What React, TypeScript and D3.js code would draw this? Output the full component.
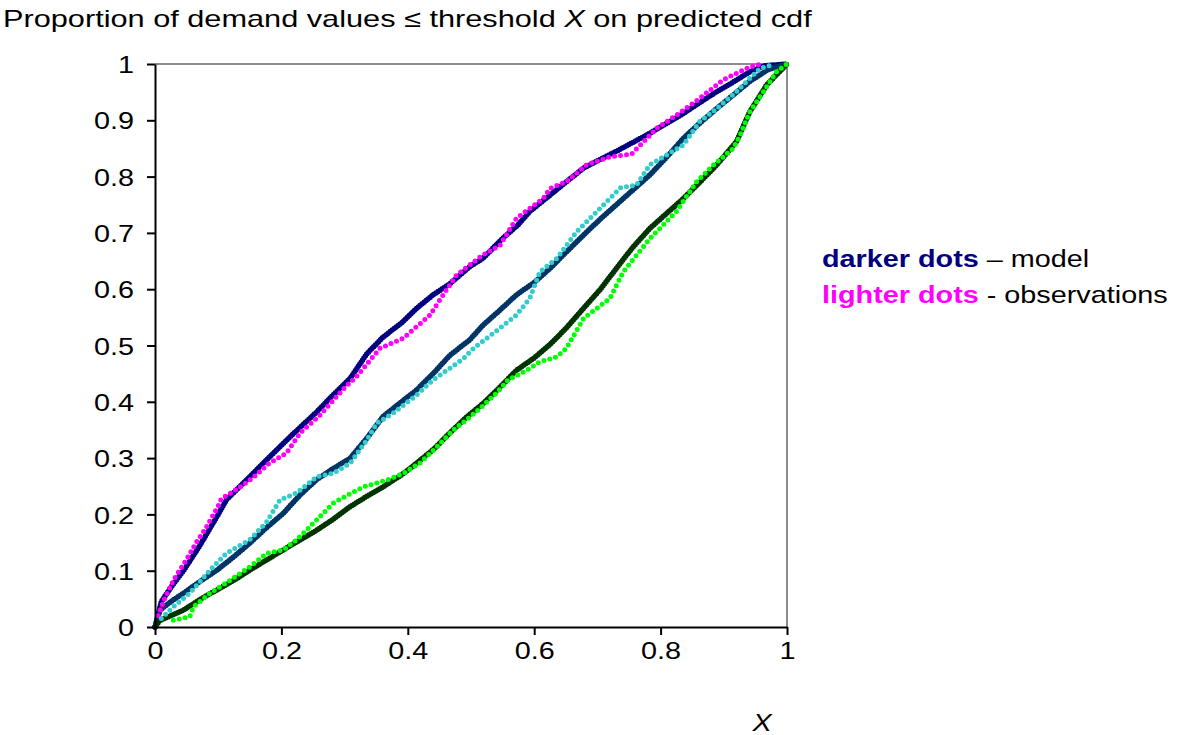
import React, { useEffect, useRef } from 'react';
import * as d3 from 'd3';

type Pt = [number, number];

// upper pair
const upperModel: Pt[] = [
  [0, 0], [0.01, 0.045], [0.025, 0.07], [0.045, 0.1], [0.07, 0.143], [0.1, 0.2], [0.113, 0.226],
  [0.15, 0.267], [0.175, 0.295], [0.203, 0.326], [0.23, 0.355], [0.256, 0.382], [0.28, 0.41],
  [0.309, 0.442], [0.335, 0.485], [0.361, 0.515], [0.39, 0.54], [0.414, 0.566], [0.44, 0.59],
  [0.467, 0.61], [0.498, 0.64], [0.519, 0.655], [0.55, 0.69], [0.575, 0.715], [0.593, 0.738],
  [0.625, 0.767], [0.65, 0.79], [0.678, 0.815], [0.7, 0.828], [0.73, 0.845], [0.755, 0.86],
  [0.783, 0.877], [0.81, 0.895], [0.836, 0.912], [0.86, 0.93], [0.889, 0.951], [0.915, 0.968],
  [0.941, 0.986], [0.965, 0.997], [1, 1],
];
const upperObs: Pt[] = [
  [0.005, 0.02], [0.015, 0.05], [0.03, 0.085], [0.05, 0.12], [0.065, 0.15], [0.08, 0.175],
  [0.1, 0.215], [0.105, 0.228], [0.13, 0.245], [0.155, 0.265], [0.18, 0.29], [0.208, 0.309],
  [0.23, 0.345], [0.26, 0.375], [0.28, 0.4], [0.3, 0.425], [0.319, 0.445], [0.356, 0.495],
  [0.393, 0.513], [0.435, 0.554], [0.456, 0.59], [0.477, 0.625], [0.498, 0.643], [0.519, 0.661],
  [0.546, 0.678], [0.572, 0.726], [0.614, 0.761], [0.625, 0.779], [0.651, 0.791], [0.683, 0.821],
  [0.72, 0.835], [0.754, 0.84], [0.794, 0.886], [0.825, 0.909], [0.862, 0.939], [0.899, 0.972],
  [0.941, 0.995], [0.96, 1],
];

// middle pair
const middleModel: Pt[] = [
  [0, 0], [0.008, 0.03], [0.025, 0.045], [0.045, 0.06], [0.07, 0.08], [0.098, 0.101],
  [0.125, 0.125], [0.15, 0.149], [0.175, 0.175], [0.203, 0.202], [0.23, 0.235], [0.256, 0.262],
  [0.28, 0.28], [0.309, 0.3], [0.335, 0.335], [0.361, 0.374], [0.39, 0.4], [0.414, 0.421],
  [0.44, 0.45], [0.467, 0.483], [0.498, 0.51], [0.519, 0.536], [0.545, 0.562], [0.572, 0.59],
  [0.6, 0.612], [0.625, 0.637], [0.65, 0.665], [0.678, 0.696], [0.705, 0.725], [0.73, 0.75],
  [0.755, 0.775], [0.783, 0.803], [0.81, 0.835], [0.836, 0.868], [0.86, 0.893], [0.889, 0.921],
  [0.915, 0.945], [0.941, 0.969], [0.97, 0.99], [1, 1],
];
const middleObs: Pt[] = [
  [0.01, 0.015], [0.029, 0.036], [0.055, 0.06], [0.087, 0.101], [0.113, 0.131], [0.15, 0.155],
  [0.177, 0.187], [0.198, 0.226], [0.224, 0.238], [0.256, 0.267], [0.282, 0.273], [0.309, 0.291],
  [0.335, 0.332], [0.351, 0.362], [0.377, 0.38], [0.414, 0.412], [0.44, 0.439], [0.462, 0.456],
  [0.488, 0.477], [0.504, 0.495], [0.546, 0.531], [0.572, 0.554], [0.593, 0.584], [0.609, 0.631],
  [0.636, 0.655], [0.667, 0.702], [0.694, 0.732], [0.725, 0.767], [0.736, 0.78], [0.762, 0.785],
  [0.783, 0.821], [0.836, 0.856], [0.862, 0.898], [0.889, 0.921], [0.92, 0.951], [0.957, 0.992],
  [0.98, 1],
];

// lower pair
const lowerModel: Pt[] = [
  [0, 0], [0.008, 0.012], [0.025, 0.02], [0.045, 0.03], [0.07, 0.048], [0.098, 0.066],
  [0.125, 0.083], [0.15, 0.101], [0.175, 0.118], [0.203, 0.137], [0.23, 0.155], [0.256, 0.172],
  [0.28, 0.19], [0.309, 0.214], [0.335, 0.232], [0.361, 0.249], [0.39, 0.27], [0.414, 0.291],
  [0.44, 0.315], [0.467, 0.345], [0.49, 0.37], [0.519, 0.397], [0.545, 0.425], [0.572, 0.456],
  [0.6, 0.478], [0.625, 0.502], [0.65, 0.53], [0.678, 0.566], [0.705, 0.6], [0.73, 0.637],
  [0.755, 0.673], [0.783, 0.708], [0.81, 0.735], [0.836, 0.761], [0.862, 0.79], [0.889, 0.821],
  [0.92, 0.862], [0.941, 0.915], [0.968, 0.963], [1, 1],
];
const lowerObs: Pt[] = [
  [0.029, 0.012], [0.055, 0.018], [0.061, 0.036], [0.087, 0.06], [0.119, 0.083], [0.15, 0.107],
  [0.177, 0.131], [0.203, 0.137], [0.224, 0.155], [0.245, 0.178], [0.282, 0.22], [0.309, 0.237],
  [0.33, 0.249], [0.367, 0.261], [0.393, 0.273], [0.419, 0.291], [0.446, 0.32], [0.472, 0.35],
  [0.493, 0.368], [0.514, 0.388], [0.54, 0.415], [0.559, 0.439], [0.588, 0.456], [0.609, 0.471],
  [0.636, 0.48], [0.651, 0.495], [0.678, 0.548], [0.699, 0.566], [0.72, 0.584], [0.741, 0.631],
  [0.783, 0.69], [0.825, 0.738], [0.857, 0.791], [0.884, 0.821], [0.915, 0.85], [0.926, 0.874],
  [0.941, 0.915], [0.963, 0.951], [0.983, 0.986], [1, 1],
];

const xTicks = [0, 0.2, 0.4, 0.6, 0.8, 1];
const yTicks = [0, 0.1, 0.2, 0.3, 0.4, 0.5, 0.6, 0.7, 0.8, 0.9, 1];

const seriesList = [
  { data: upperModel, color: '#000080', kind: 'model' },
  { data: middleModel, color: '#003366', kind: 'model' },
  { data: lowerModel, color: '#003300', kind: 'model' },
  { data: upperObs, color: '#FF00FF', kind: 'obs' },
  { data: middleObs, color: '#33CCCC', kind: 'obs' },
  { data: lowerObs, color: '#00FF00', kind: 'obs' },
];

// the original text is Arial, slightly widened
const SX = 1.2;

const App: React.FC = () => {
  const svgRef = useRef<SVGSVGElement>(null);

  useEffect(() => {
    if (!svgRef.current) return;
    const svg = d3.select(svgRef.current);
    svg.selectAll('*').remove();

    const left = 155, right = 787, top = 64, bottom = 627;
    const font = 'Liberation Sans, Arial, sans-serif';
    const fs = 24;

    const x = d3.scaleLinear().domain([0, 1]).range([left, right]);
    const y = d3.scaleLinear().domain([0, 1]).range([bottom, top]);

    const wideText = (tx: number, ty: number, sx = SX) =>
      svg.append('g').attr('transform', `translate(${tx},${ty}) scale(${sx},1)`)
        .append('text')
        .attr('font-family', font).attr('font-size', fs).attr('fill', '#000');

    // title
    const title = wideText(3, 27, 1.28);
    title.append('tspan').text('Proportion of demand values \u2264 threshold ');
    title.append('tspan').attr('font-style', 'italic').text('X');
    title.append('tspan').text(' on predicted cdf');

    // plot frame (top / right gray)
    svg.append('path')
      .attr('d', `M${left},${top}H${right}V${bottom}`)
      .attr('fill', 'none').attr('stroke', '#8c8c8c').attr('stroke-width', 2);

    const line = d3.line<Pt>().x(d => x(d[0])).y(d => y(d[1])).curve(d3.curveLinear);

    seriesList.forEach(s => {
      svg.append('path')
        .datum(s.data)
        .attr('d', line)
        .attr('fill', 'none')
        .attr('stroke', s.color)
        .attr('stroke-width', s.kind === 'model' ? 5.5 : 5)
        .attr('stroke-linecap', 'round')
        .attr('stroke-dasharray', s.kind === 'model' ? '0 2.5' : '0 6');
    });

    // axes
    const xAxis = svg.append('g')
      .attr('transform', `translate(0,${bottom})`)
      .call(d3.axisBottom(x).tickValues(xTicks).tickFormat(d => String(d)).tickSize(8).tickSizeOuter(0));
    xAxis.select('.domain').attr('stroke', '#000').attr('stroke-width', 2);
    xAxis.selectAll('.tick line').attr('stroke', '#000').attr('stroke-width', 2);
    xAxis.selectAll('.tick text')
      .attr('font-family', font).attr('font-size', fs).attr('fill', '#000')
      .attr('y', 32).attr('dy', 0)
      .attr('transform', `scale(${SX},1)`);

    const yAxis = svg.append('g')
      .attr('transform', `translate(${left},0)`)
      .call(d3.axisLeft(y).tickValues(yTicks).tickFormat(d => String(d)).tickSize(8).tickSizeOuter(0));
    yAxis.select('.domain').attr('stroke', '#000').attr('stroke-width', 2);
    yAxis.selectAll('.tick line').attr('stroke', '#000').attr('stroke-width', 2);
    yAxis.selectAll('.tick text')
      .attr('font-family', font).attr('font-size', fs).attr('fill', '#000')
      .attr('x', -21 / SX).attr('dy', '0.36em')
      .attr('transform', `scale(${SX},1)`);

    // x axis title
    wideText(762, 731)
      .attr('font-style', 'italic').attr('text-anchor', 'middle')
      .text('X');

    // legend
    const l1 = wideText(822, 267);
    l1.append('tspan').attr('font-weight', 'bold').attr('fill', '#000080').text('darker dots');
    l1.append('tspan').text(' \u2013 model');

    const l2 = wideText(822, 303);
    l2.append('tspan').attr('font-weight', 'bold').attr('fill', '#FF00FF').text('lighter dots');
    l2.append('tspan').text(' - observations');
  }, []);

  return (
    <svg
      ref={svgRef}
      width={1180}
      height={735}
      style={{ position: 'absolute', left: 0, top: 0, background: '#fff' }}
    />
  );
};

export default App;
